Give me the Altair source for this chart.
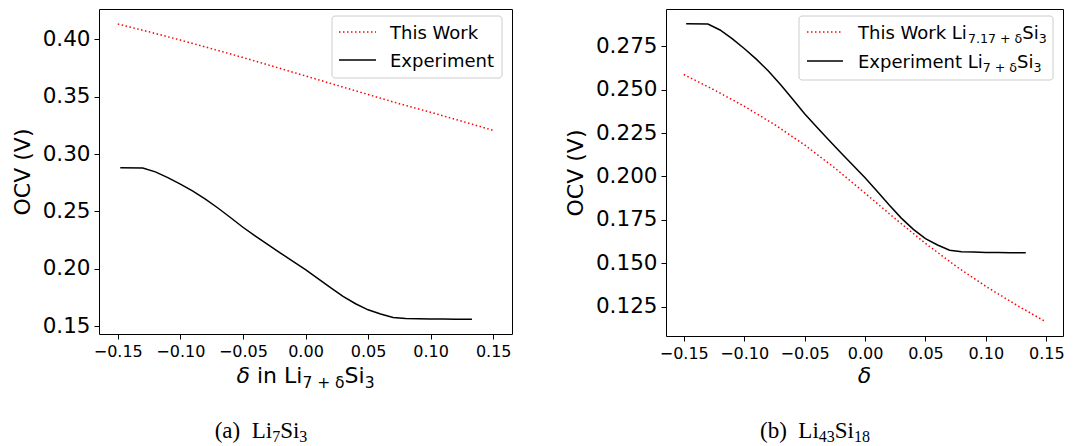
import altair as alt
import pandas as pd

# ---------------- data ----------------
x_ticks = [-0.15, -0.10, -0.05, 0.00, 0.05, 0.10, 0.15]
ya_ticks = [0.15, 0.20, 0.25, 0.30, 0.35, 0.40]
yb_ticks = [0.125, 0.150, 0.175, 0.200, 0.225, 0.250, 0.275]

exp_delta = [-0.148, -0.130, -0.120, -0.110, -0.100, -0.090, -0.080, -0.070, -0.060, -0.050,
             -0.040, -0.030, -0.020, -0.010, 0.000, 0.010, 0.020, 0.030, 0.040, 0.050,
             0.060, 0.070, 0.080, 0.090, 0.100, 0.110, 0.120, 0.133]
exp_ocv = [0.2881, 0.2879, 0.2845, 0.2795, 0.2738, 0.2677, 0.2608, 0.2530, 0.2447, 0.2362,
           0.2285, 0.2210, 0.2137, 0.2065, 0.1993, 0.1915, 0.1835, 0.1760, 0.1695, 0.1642,
           0.1605, 0.1575, 0.1566, 0.1564, 0.1562, 0.1561, 0.1560, 0.1560]

tw_a_delta = [-0.15, -0.125, -0.10, -0.075, -0.05, -0.025, 0.0, 0.025, 0.05, 0.075, 0.10, 0.125, 0.15]
tw_a_ocv = [0.4135, 0.4067, 0.3995, 0.3920, 0.3843, 0.3763, 0.3682, 0.3601, 0.3520, 0.3440,
            0.3365, 0.3287, 0.3207]

tw_b_delta = [-0.15, -0.125, -0.10, -0.075, -0.05, -0.025, 0.0, 0.025, 0.05, 0.075, 0.10, 0.125, 0.148]
tw_b_ocv = [0.2588, 0.2500, 0.2405, 0.2300, 0.2182, 0.2049, 0.1904, 0.1756, 0.1614, 0.1484,
            0.1366, 0.1260, 0.1168]

y_title = "OCV (V)"
legend_a = ["This Work", "Experiment"]

# ---------------- text helpers ----------------
SANS = {' ': 0.318, '(': 0.390, ')': 0.390, '.': 0.318, '+': 0.838, 'E': 0.632, 'L': 0.557,
        'S': 0.635, 'T': 0.611, 'W': 0.989, 'e': 0.615, 'h': 0.634, 'i': 0.278, 'k': 0.579,
        'm': 0.974, 'n': 0.634, 'o': 0.612, 'p': 0.635, 'r': 0.411, 's': 0.521, 't': 0.392,
        'x': 0.592, 'δ': 0.612}
SERIF = {' ': 0.25, '(': 0.333, ')': 0.333, 'a': 0.444, 'b': 0.5, 'L': 0.611, 'i': 0.278,
         'S': 0.556}
for d in "0123456789":
    SANS[d] = 0.636
    SERIF[d] = 0.5


def twidth(s, size, table):
    return sum(table.get(c, 0.6) for c in s) * size


def text_layer(txt, x, y, size, font="DejaVu Sans", style="normal"):
    return alt.Chart(pd.DataFrame({"t": [txt]})).mark_text(
        align="left", baseline="alphabetic", font=font, fontSize=size,
        fontStyle=style, color="black"
    ).encode(x=alt.value(x), y=alt.value(y), text="t:N")


def rich(pieces, base, table, font, x0=None, cx=None):
    total = sum(twidth(p[0], p[1], table) for p in pieces)
    x = x0 if x0 is not None else cx - total / 2
    layers = []
    for txt, size, dy, style in pieces:
        if txt.strip():
            layers.append(text_layer(txt, x, base + dy, size, font, style))
        x += twidth(txt, size, table)
    return layers


def legend_box(x1, x2, y1, y2):
    return alt.Chart(pd.DataFrame({"k": [0]})).mark_rect(
        fill="white", fillOpacity=0.8, stroke="#cccccc", strokeWidth=1, cornerRadius=3
    ).encode(x=alt.value(x1), x2=alt.value(x2), y=alt.value(y1), y2=alt.value(y2))


def legend_line(x1, x2, y, dotted):
    kw = dict(color="red", strokeDash=[1.5, 2.5]) if dotted else dict(color="black")
    return alt.Chart(pd.DataFrame({"k": [0]})).mark_rule(strokeWidth=1.5, **kw).encode(
        x=alt.value(x1), x2=alt.value(x2), y=alt.value(y))


MINUS = "replace(datum.label, '-', '\u2212')"


def panel(tw_d, tw_v, xdom, ydom, yticks, yfmt, ext):
    xenc = alt.X("delta:Q", scale=alt.Scale(domain=xdom, nice=False, zero=False),
                 axis=alt.Axis(values=x_ticks, format=".2f", title=None, labelExpr=MINUS))
    yenc = alt.Y("ocv:Q", scale=alt.Scale(domain=ydom, nice=False, zero=False),
                 axis=alt.Axis(values=yticks, format=yfmt, title=y_title,
                               minExtent=ext, maxExtent=ext))
    tw = alt.Chart(pd.DataFrame({"delta": tw_d, "ocv": tw_v})).mark_line(
        color="red", strokeDash=[1.5, 2.5], strokeWidth=1.5).encode(x=xenc, y=yenc)
    ex = alt.Chart(pd.DataFrame({"delta": exp_delta, "ocv": exp_ocv})).mark_line(
        color="black", strokeWidth=1.5).encode(x=xenc, y=yenc)
    return [tw, ex]


# ---------------- panel (a) ----------------
Wa, Ha = 413, 325
la = panel(tw_a_delta, tw_a_ocv, [-0.165, 0.165], [0.1431, 0.4266], ya_ticks, ".2f", 57)
la += [legend_box(233, 403, 7, 69), legend_line(240, 277, 23, True), legend_line(240, 277, 51, False)]
la += rich([(legend_a[0], 18, 0, "normal")], 29.5, SANS, "DejaVu Sans", x0=291)
la += rich([(legend_a[1], 18, 0, "normal")], 57.5, SANS, "DejaVu Sans", x0=291)
la += rich([("δ", 22, 0, "italic"), (" ", 22, 0, "normal"), ("in Li", 22, 0, "normal"),
            ("7 + δ", 15.5, 5, "normal"), ("Si", 22, 0, "normal"), ("3", 15.5, 5, "normal")],
           374, SANS, "DejaVu Sans", cx=Wa / 2)
la += rich([("(a)", 23, 0, "normal"), ("  ", 23, 0, "normal"), ("Li", 23, 0, "normal"),
            ("7", 16, 4, "normal"), ("Si", 23, 0, "normal"), ("3", 16, 4, "normal")],
           429, SERIF, "Liberation Serif", cx=162)
chart_a = alt.layer(*la).properties(width=Wa, height=Ha)

# ---------------- panel (b) ----------------
Wb, Hb = 397, 327
lb = panel(tw_b_delta, tw_b_ocv, [-0.1647, 0.1638], [0.108, 0.2966], yb_ticks, ".3f", 71)
lb += [legend_box(133, 387, 7, 71), legend_line(141, 177, 23, True), legend_line(141, 177, 52, False)]
lb += rich([("This Work Li", 18, 0, "normal"), ("7.17 + δ", 12.6, 4, "normal"),
            ("Si", 18, 0, "normal"), ("3", 12.6, 4, "normal")], 29.5, SANS, "DejaVu Sans", x0=192)
lb += rich([("Experiment Li", 18, 0, "normal"), ("7 + δ", 12.6, 4, "normal"),
            ("Si", 18, 0, "normal"), ("3", 12.6, 4, "normal")], 58.5, SANS, "DejaVu Sans", x0=192)
lb += rich([("δ", 22, 0, "italic")], 374, SANS, "DejaVu Sans", cx=Wb / 2)
lb += rich([("(b)", 23, 0, "normal"), ("  ", 23, 0, "normal"), ("Li", 23, 0, "normal"),
            ("43", 16, 4, "normal"), ("Si", 23, 0, "normal"), ("18", 16, 4, "normal")],
           429, SERIF, "Liberation Serif", cx=149)
chart_b = alt.layer(*lb).properties(width=Wb, height=Hb)

chart = alt.hconcat(chart_a, chart_b, spacing=154, bounds="flush").properties(
    padding={"left": 2, "top": 0, "right": 2, "bottom": 0}
).configure(font="DejaVu Sans").configure_view(
    stroke="black", strokeWidth=1
).configure_axis(
    domain=False, grid=False, tickColor="black", tickWidth=1, tickSize=5,
    labelColor="black", titleColor="black", labelFont="DejaVu Sans", titleFont="DejaVu Sans",
    titleFontWeight="normal", labelPadding=4, labelFlush=False, labelOverlap=False
).configure_axisX(labelFontSize=16).configure_axisY(
    labelFontSize=21.5, titleFontSize=22, titlePadding=8)

chart.save("out.html", embed_options={"renderer": "svg", "actions": False})
